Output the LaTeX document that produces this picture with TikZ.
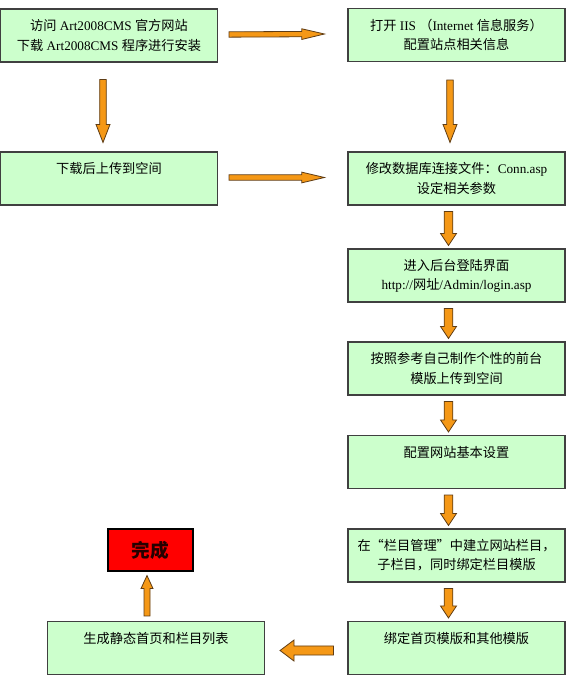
\documentclass[tikz,border=0pt]{standalone}
\usepackage{fontspec}
\setmainfont{Liberation Serif}
\newfontfamily\cjk{Noto Sans CJK SC}
\newcommand{\zh}[1]{{\cjk #1}}
\usetikzlibrary{calc}
\definecolor{mint}{RGB}{204,255,204}
\definecolor{tangerine}{RGB}{245,152,22}
\definecolor{umber}{RGB}{95,60,20}
\definecolor{signal}{RGB}{255,0,0}
\tikzset{
  box/.style={draw=black!75,fill=mint,line width=0.8pt,minimum width=162.75pt,
    minimum height=39.75pt,align=center,inner sep=0pt,
    font=\fontsize{9.9pt}{14.4pt}\selectfont},
  oneline/.style={text depth=15.6pt},
  done box/.style={draw=black,fill=signal,line width=0.8pt,minimum width=63.75pt,
    minimum height=31.5pt,text=black!85!red,font=\cjk\fontsize{14pt}{14pt}\selectfont\bfseries},
  % block arrows drawn from one point to another
  fat len/.store in=\fatlen, fat shaft/.store in=\fatshaft, fat head/.store in=\fathead,
  fat len=9pt, fat shaft=3.25pt, fat head=6pt,
  fr/.style={rotate around={\n1:(\p1)}},
  fat/.style={fill=tangerine,draw=umber,line width=0.6pt,
    to path={let \p1=(\tikztostart),\p2=(\tikztotarget),
      \n1={atan2(\y2-\y1,\x2-\x1)},\n2={veclen(\x2-\x1,\y2-\y1)} in
      ([fr]\x1,{\y1+\fatshaft}) -- ([fr]{\x1+\n2*1pt-\fatlen},{\y1+\fatshaft})
      -- ([fr]{\x1+\n2*1pt-\fatlen},{\y1+\fathead}) -- ([fr]{\x1+\n2*1pt},\y1)
      -- ([fr]{\x1+\n2*1pt-\fatlen},{\y1-\fathead}) -- ([fr]{\x1+\n2*1pt-\fatlen},{\y1-\fatshaft})
      -- ([fr]\x1,{\y1-\fatshaft}) -- cycle}},
  long/.style={fat,fat len=13.5pt,fat shaft=2.5pt,fat head=5.25pt},
  wide/.style={fat,fat len=17pt,fat shaft=2pt,fat head=4pt},
}

\begin{document}
\begin{tikzpicture}[x=0.75pt,y=-0.75pt]
  \useasboundingbox (0,0) rectangle (574,677);
  \node[box] (visit) at (109,35.5) {\zh{访问} Art2008CMS \zh{官方网站}\\\zh{下载} Art2008CMS \zh{程序进行安装}};
  \node[box] (iis) at (456.5,35) {\zh{打开} IIS \zh{（}Internet \zh{信息服务）}\\\zh{配置站点相关信息}};
  \node[box,oneline] (upload) at (109,178.5) {\zh{下载后上传到空间}};
  \node[box] (conn) at (456.5,178.5) {\zh{修改数据库连接文件：}Conn.asp\\\zh{设定相关参数}};
  \node[box] (login) at (456.5,275.5) {\zh{进入后台登陆界面}\\http://\zh{网址}/Admin/login.asp};
  \node[box] (tpl) at (456.5,368.5) {\zh{按照参考自己制作个性的前台}\\\zh{模版上传到空间}};
  \node[box,oneline] (config) at (456.5,462) {\zh{配置网站基本设置}};
  \node[box] (column) at (456.5,555.5) {\zh{在“栏目管理”中建立网站栏目，}\\\zh{子栏目，同时绑定栏目模版}};
  \node[box,oneline] (bind) at (456.5,648) {\zh{绑定首页模版和其他模版}};
  \node[box,oneline] (static) at (156,648) {\zh{生成静态首页和栏目列表}};
  \node[done box] (done) at (150.5,550) {完成};

  \draw[wide] ([shift={(11,-1)}]visit.east) to ([shift={(-23,-1)}]iis.west);
  \draw[wide] ([shift={(11,-1)}]upload.east) to ([shift={(-23,-1)}]conn.west);
  \draw[long] ([shift={(-6,17)}]visit.south) to ([shift={(-6,-9)}]upload.north);
  \draw[long] ([shift={(-6.5,18)}]iis.south) to ([shift={(-6.5,-9)}]conn.north);
  \foreach \a/\b in {conn/login,login/tpl,tpl/config,config/column,column/bind}
    \draw[fat] ([shift={(-8,6)}]\a.south) to ([shift={(-8,-3)}]\b.north);
  \draw[fat,fat len=10.5pt,fat shaft=3.4pt,fat head=7.9pt] ([shift={(-14,2.5)}]bind.west) to ([shift={(15,2.5)}]static.east);
  \draw[fat,fat len=9.75pt,fat shaft=2.25pt,fat head=4.5pt] ([shift={(-9,-5)}]static.north) to ([shift={(-3.5,4)}]done.south);
\end{tikzpicture}
\end{document}
